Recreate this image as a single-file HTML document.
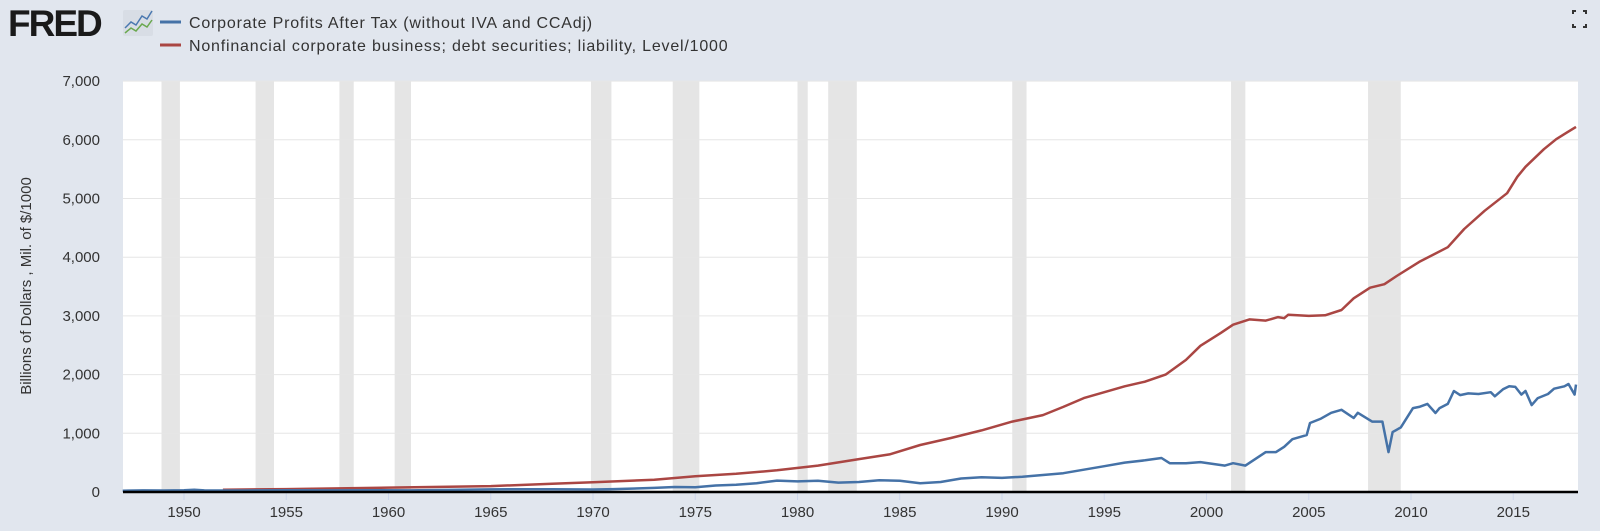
<!DOCTYPE html>
<html><head><meta charset="utf-8"><style>
body{margin:0;width:1600px;height:526px;background:#e1e6ee;overflow:hidden;font-family:"Liberation Sans",sans-serif}
</style></head><body>
<svg width="1600" height="526" xmlns="http://www.w3.org/2000/svg" font-family="Liberation Sans, sans-serif">
<text x="8" y="36" font-size="37" font-weight="bold" fill="#1a1a1a" letter-spacing="-2">FRED</text>
<rect x="123" y="10" width="30" height="26" rx="2" fill="#d8dde5"/>
<polyline points="125,28 131,22 136,25 142,16 147,19 152,11" fill="none" stroke="#4a78b0" stroke-width="1.5"/>
<polyline points="125,33 131,28 136,31 142,24 147,27 152,20" fill="none" stroke="#6aa84f" stroke-width="1.5"/>
<line x1="160" y1="22" x2="181" y2="22" stroke="#4572a7" stroke-width="3"/>
<line x1="160" y1="45" x2="181" y2="45" stroke="#aa4643" stroke-width="3"/>
<text x="189" y="28" font-size="16" fill="#333" letter-spacing="0.8">Corporate Profits After Tax (without IVA and CCAdj)</text>
<text x="189" y="51" font-size="16" fill="#333" letter-spacing="0.8">Nonfinancial corporate business; debt securities; liability, Level/1000</text>
<g stroke="#333" stroke-width="2" fill="none"><path d="M1573 14v-3h3M1583 11h3v3M1573 24v3h3M1583 27h3v-3"/></g>
<rect x="123" y="81" width="1455" height="411" fill="#fff"/>
<g id="rec" fill="#e5e5e5"></g>
<g id="grid" stroke="#e6e6e6" stroke-width="1"></g>
<g id="ylab" font-size="15" fill="#333" text-anchor="end"></g>
<g id="xlab" font-size="15" fill="#333" text-anchor="middle"></g>
<text transform="translate(31,286) rotate(-90)" font-size="15" fill="#333" text-anchor="middle">Billions of Dollars , Mil. of $/1000</text>
<path id="red" fill="none" stroke="#aa4643" stroke-width="2.5" stroke-linejoin="round"/>
<path id="blue" fill="none" stroke="#4572a7" stroke-width="2.5" stroke-linejoin="round"/>
<line x1="123" y1="492" x2="1578" y2="492" stroke="#000" stroke-width="2.5"/>
</svg>
<script>
var X=function(y){return 184+(y-1950)*20.45},Y=function(v){return 492-v*0.0587};
var ns="http://www.w3.org/2000/svg";
function el(p,t,a,txt){var e=document.createElementNS(ns,t);for(var k in a)e.setAttribute(k,a[k]);if(txt)e.textContent=txt;document.getElementById(p).appendChild(e);}
[[1948.9,1949.8],[1953.5,1954.4],[1957.6,1958.3],[1960.3,1961.1],[1969.9,1970.9],[1973.9,1975.2],[1980.0,1980.5],[1981.5,1982.9],[1990.5,1991.2],[2001.2,2001.9],[2007.9,2009.5]].forEach(function(r){el("rec","rect",{x:X(r[0]),y:81,width:X(r[1])-X(r[0]),height:411});});
for(var i=1;i<=7;i++){el("grid","line",{x1:123,x2:1578,y1:Y(i*1000),y2:Y(i*1000)});}
for(i=0;i<=7;i++){el("ylab","text",{x:100,y:Y(i*1000)+5},i==0?"0":i+",000");}
for(var yr=1950;yr<=2015;yr+=5){el("grid","line",{x1:X(yr),x2:X(yr),y1:492,y2:500,stroke:"#ccd6eb"});el("xlab","text",{x:X(yr),y:517},""+yr);}
var blue=[[1947,22],[1948,28],[1949,25],[1950,30],[1950.5,38],[1951,28],[1953,25],[1955,30],[1957,28],[1959,30],[1961,28],[1963,35],[1965,45],[1966,48],[1968,46],[1970,42],[1971,50],[1973,70],[1974,85],[1975,80],[1976,110],[1977,125],[1978,150],[1979,195],[1980,180],[1981,190],[1982,160],[1983,170],[1984,200],[1985,190],[1986,150],[1987,170],[1988,230],[1989,250],[1990,240],[1991,260],[1992,290],[1993,320],[1994,380],[1995,440],[1996,500],[1997,540],[1997.8,580],[1998.2,490],[1999,490],[1999.7,510],[2000.9,450],[2001.3,490],[2001.9,450],[2002.9,680],[2003.4,680],[2003.8,770],[2004.2,900],[2004.9,970],[2005.06,1175],[2005.6,1250],[2006.1,1350],[2006.6,1400],[2007.2,1260],[2007.4,1350],[2008.1,1200],[2008.6,1200],[2008.9,680],[2009.1,1020],[2009.5,1100],[2010.1,1430],[2010.4,1450],[2010.8,1500],[2011.2,1345],[2011.4,1430],[2011.8,1500],[2012.1,1720],[2012.4,1650],[2012.8,1680],[2013.3,1670],[2013.9,1700],[2014.1,1630],[2014.5,1750],[2014.8,1800],[2015.1,1790],[2015.4,1660],[2015.6,1720],[2015.9,1480],[2016.2,1600],[2016.7,1670],[2017,1760],[2017.5,1800],[2017.7,1840],[2018.0,1660],[2018.1,1830]];
var red=[[1951.9,40],[1955,50],[1960,75],[1965,100],[1968,140],[1970,165],[1973,210],[1975,270],[1977,310],[1979,370],[1981,450],[1983,560],[1984.5,640],[1986,800],[1987.5,920],[1989,1050],[1990.5,1200],[1992,1310],[1993,1450],[1994,1600],[1995,1700],[1996,1800],[1997,1880],[1998,2000],[1999,2250],[1999.7,2490],[2000.7,2710],[2001.3,2850],[2002.1,2940],[2002.9,2920],[2003.5,2980],[2003.8,2960],[2004.0,3020],[2005.0,3000],[2005.8,3010],[2006.6,3100],[2007.2,3300],[2008.0,3480],[2008.7,3540],[2009.3,3680],[2010.4,3920],[2011.8,4170],[2012.6,4480],[2013.6,4790],[2014.7,5090],[2015.2,5370],[2015.6,5540],[2016.5,5840],[2017.1,6010],[2017.6,6120],[2018.07,6220]];
function toD(a){return a.map(function(p,i){return (i?"L":"M")+X(Math.min(p[0],2018.07)).toFixed(1)+" "+Y(p[1]).toFixed(1)}).join("");}
document.getElementById("blue").setAttribute("d",toD(blue));
document.getElementById("red").setAttribute("d",toD(red));
</script>
</body></html>
